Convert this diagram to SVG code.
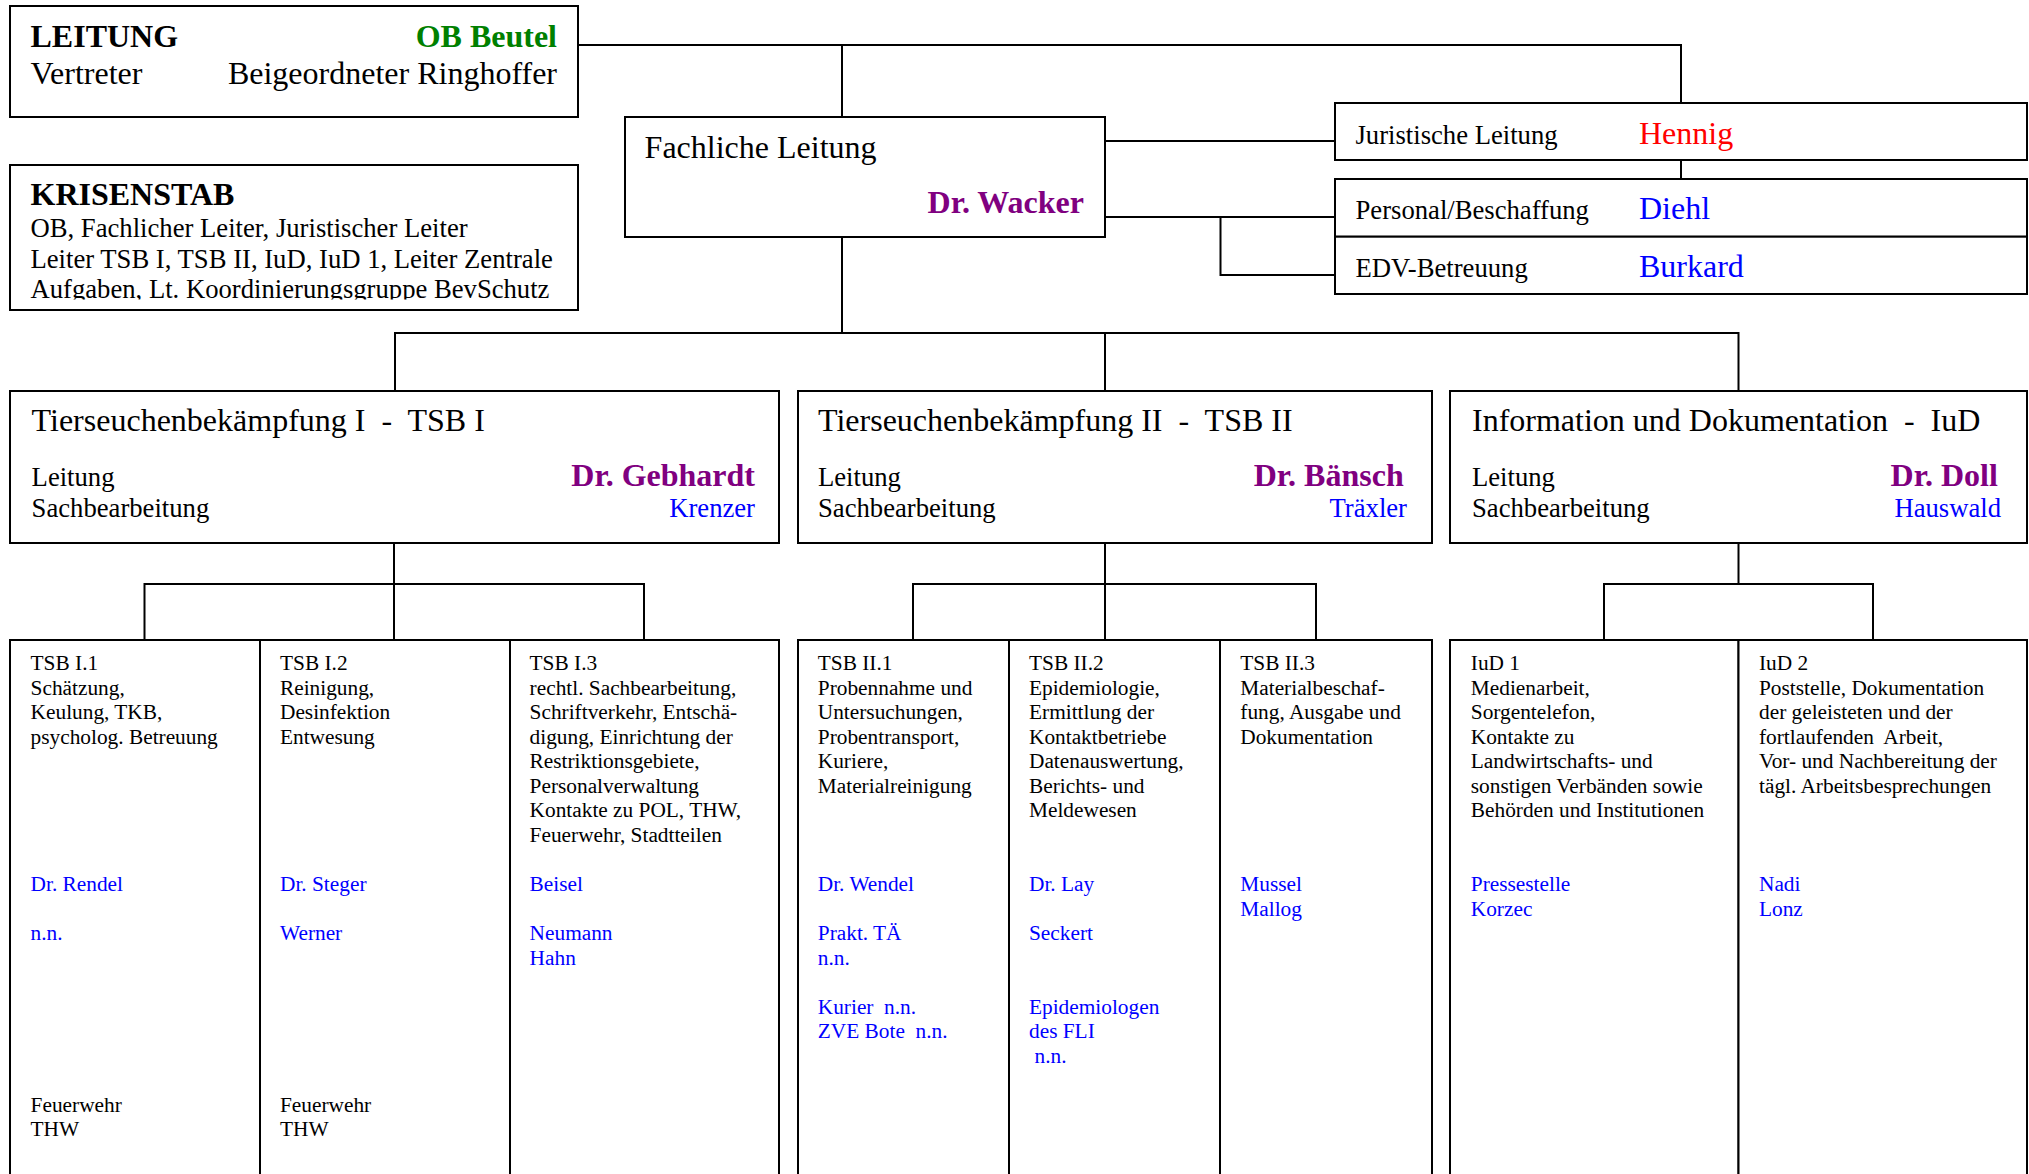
<svg xmlns="http://www.w3.org/2000/svg" width="2029" height="1174" viewBox="0 0 2029 1174">
<style>
.box{fill:#fff;stroke:#000;stroke-width:2}
.ln{fill:none;stroke:#000;stroke-width:2}
text{font-family:"Liberation Serif","Times New Roman",serif;fill:#000}
.h{font-size:32px}
.m{font-size:26.67px}
.s{font-size:21.33px}
.b{font-weight:bold}
.e{text-anchor:end}
.g{fill:#008000}
.p{fill:#800080}
.bl{fill:#0000ff}
.r{fill:#ff0000}
</style>
<defs>
<clipPath id="kclip"><rect x="10" y="165" width="568" height="134.5"/></clipPath>
</defs>
<rect width="2029" height="1174" fill="#fff"/>
<g id="connectors">
<path class="ln" d="M578,45 H1681 V103"/>
<path class="ln" d="M842,45 V117"/>
<path class="ln" d="M1105,141 H1335"/>
<path class="ln" d="M1105,217 H1335"/>
<path class="ln" d="M1220.5,217 V275 H1335"/>
<path class="ln" d="M1681,160 V179"/>
<path class="ln" d="M842,237 V333"/>
<path class="ln" d="M395,391 V333 H1738.5 V391"/>
<path class="ln" d="M1105,333 V391"/>
<path class="ln" d="M394,543 V640"/>
<path class="ln" d="M144.5,640 V584 H644 V640"/>
<path class="ln" d="M1105,543 V640"/>
<path class="ln" d="M913,640 V584 H1316 V640"/>
<path class="ln" d="M1738.5,543 V584"/>
<path class="ln" d="M1604,640 V584 H1873 V640"/>
</g>
<g id="leitung">
<rect class="box" x="10" y="6" width="568" height="111"/>
<text class="h b" x="30.5" y="46.7">LEITUNG</text>
<text class="h b g e" x="557" y="46.7">OB Beutel</text>
<text class="h" x="30.5" y="83.8">Vertreter</text>
<text class="h e" x="557" y="83.8">Beigeordneter Ringhoffer</text>
</g>
<g id="krisenstab">
<rect class="box" x="10" y="165" width="568" height="145"/>
<g clip-path="url(#kclip)">
<text class="h b" x="30.5" y="205">KRISENSTAB</text>
<text class="m" x="30.5" y="237.3">OB, Fachlicher Leiter, Juristischer Leiter</text>
<text class="m" x="30.5" y="267.7">Leiter TSB I, TSB II, IuD, IuD 1, Leiter Zentrale</text>
<text class="m" x="30.5" y="298">Aufgaben, Lt. Koordinierungsgruppe BevSchutz</text>
</g>
</g>
<g id="fachliche-leitung">
<rect class="box" x="625" y="117" width="480" height="120"/>
<text class="h" x="644.6" y="158">Fachliche Leitung</text>
<text class="h b p e" x="1084" y="212.5">Dr. Wacker</text>
</g>
<g id="juristische-leitung">
<rect class="box" x="1335" y="103" width="692" height="57"/>
<text class="m" x="1355.5" y="143.5">Juristische Leitung</text>
<text class="h r" x="1639" y="143.5">Hennig</text>
</g>
<g id="personal">
<rect class="box" x="1335" y="179" width="692" height="57.7"/>
<text class="m" x="1355.5" y="219.3">Personal/Beschaffung</text>
<text class="h bl" x="1639" y="219.3">Diehl</text>
</g>
<g id="edv">
<rect class="box" x="1335" y="236.7" width="692" height="57.3"/>
<text class="m" x="1355.5" y="276.7">EDV-Betreuung</text>
<text class="h bl" x="1639" y="276.7">Burkard</text>
</g>
<g id="tsb1">
<rect class="box" x="10" y="391" width="769" height="152"/>
<text class="h" x="31.6" y="430.7" xml:space="preserve">Tierseuchenbekämpfung I  -  TSB I</text>
<text class="m" x="31.6" y="486">Leitung</text>
<text class="h b p e" x="755" y="486">Dr. Gebhardt</text>
<text class="m" x="31.6" y="516.7">Sachbearbeitung</text>
<text class="m bl e" x="755" y="516.7">Krenzer</text>
</g>
<g id="tsb2">
<rect class="box" x="798" y="391" width="634" height="152"/>
<text class="h" x="818" y="430.7" xml:space="preserve">Tierseuchenbekämpfung II  -  TSB II</text>
<text class="m" x="818" y="486">Leitung</text>
<text class="h b p e" x="1403.7" y="486">Dr. Bänsch</text>
<text class="m" x="818" y="516.7">Sachbearbeitung</text>
<text class="m bl e" x="1407" y="516.7">Träxler</text>
</g>
<g id="iud">
<rect class="box" x="1450" y="391" width="577" height="152"/>
<text class="h" x="1472" y="430.7" xml:space="preserve">Information und Dokumentation  -  IuD</text>
<text class="m" x="1472" y="486">Leitung</text>
<text class="h b p e" x="1997.8" y="486">Dr. Doll</text>
<text class="m" x="1472" y="516.7">Sachbearbeitung</text>
<text class="m bl e" x="2001" y="516.7">Hauswald</text>
</g>
<g id="tsb1-1">
<rect class="box" x="10" y="640" width="250" height="560"/>
<text class="s" x="30.6" y="670.2">TSB I.1</text>
<text class="s" x="30.6" y="694.7">Schätzung,</text>
<text class="s" x="30.6" y="719.3">Keulung, TKB,</text>
<text class="s" x="30.6" y="743.8">psycholog. Betreuung</text>
<text class="s bl" x="30.6" y="891">Dr. Rendel</text>
<text class="s bl" x="30.6" y="940">n.n.</text>
<text class="s" x="30.6" y="1111.7">Feuerwehr</text>
<text class="s" x="30.6" y="1136.3">THW</text>
</g>
<g id="tsb1-2">
<rect class="box" x="260" y="640" width="250" height="560"/>
<text class="s" x="280" y="670.2">TSB I.2</text>
<text class="s" x="280" y="694.7">Reinigung,</text>
<text class="s" x="280" y="719.3">Desinfektion</text>
<text class="s" x="280" y="743.8">Entwesung</text>
<text class="s bl" x="280" y="891">Dr. Steger</text>
<text class="s bl" x="280" y="940">Werner</text>
<text class="s" x="280" y="1111.7">Feuerwehr</text>
<text class="s" x="280" y="1136.3">THW</text>
</g>
<g id="tsb1-3">
<rect class="box" x="510" y="640" width="269" height="560"/>
<text class="s" x="529.6" y="670.2">TSB I.3</text>
<text class="s" x="529.6" y="694.7">rechtl. Sachbearbeitung,</text>
<text class="s" x="529.6" y="719.3">Schriftverkehr, Entschä-</text>
<text class="s" x="529.6" y="743.8">digung, Einrichtung der</text>
<text class="s" x="529.6" y="768.3">Restriktionsgebiete,</text>
<text class="s" x="529.6" y="792.9">Personalverwaltung</text>
<text class="s" x="529.6" y="817.4">Kontakte zu POL, THW,</text>
<text class="s" x="529.6" y="841.9">Feuerwehr, Stadtteilen</text>
<text class="s bl" x="529.6" y="891">Beisel</text>
<text class="s bl" x="529.6" y="940">Neumann</text>
<text class="s bl" x="529.6" y="964.6">Hahn</text>
</g>
<g id="tsb2-1">
<rect class="box" x="798" y="640" width="211" height="560"/>
<text class="s" x="817.8" y="670.2">TSB II.1</text>
<text class="s" x="817.8" y="694.7">Probennahme und</text>
<text class="s" x="817.8" y="719.3">Untersuchungen,</text>
<text class="s" x="817.8" y="743.8">Probentransport,</text>
<text class="s" x="817.8" y="768.3">Kuriere,</text>
<text class="s" x="817.8" y="792.9">Materialreinigung</text>
<text class="s bl" x="817.8" y="891">Dr. Wendel</text>
<text class="s bl" x="817.8" y="940">Prakt. TÄ</text>
<text class="s bl" x="817.8" y="964.6">n.n.</text>
<text class="s bl" x="817.8" y="1013.6" xml:space="preserve">Kurier  n.n.</text>
<text class="s bl" x="817.8" y="1038.2" xml:space="preserve">ZVE Bote  n.n.</text>
</g>
<g id="tsb2-2">
<rect class="box" x="1009" y="640" width="211" height="560"/>
<text class="s" x="1029" y="670.2">TSB II.2</text>
<text class="s" x="1029" y="694.7">Epidemiologie,</text>
<text class="s" x="1029" y="719.3">Ermittlung der</text>
<text class="s" x="1029" y="743.8">Kontaktbetriebe</text>
<text class="s" x="1029" y="768.3">Datenauswertung,</text>
<text class="s" x="1029" y="792.9">Berichts- und</text>
<text class="s" x="1029" y="817.4">Meldewesen</text>
<text class="s bl" x="1029" y="891">Dr. Lay</text>
<text class="s bl" x="1029" y="940">Seckert</text>
<text class="s bl" x="1029" y="1013.6">Epidemiologen</text>
<text class="s bl" x="1029" y="1038.2">des FLI</text>
<text class="s bl" x="1034.5" y="1062.7">n.n.</text>
</g>
<g id="tsb2-3">
<rect class="box" x="1220" y="640" width="212" height="560"/>
<text class="s" x="1240.3" y="670.2">TSB II.3</text>
<text class="s" x="1240.3" y="694.7">Materialbeschaf-</text>
<text class="s" x="1240.3" y="719.3">fung, Ausgabe und</text>
<text class="s" x="1240.3" y="743.8">Dokumentation</text>
<text class="s bl" x="1240.3" y="891">Mussel</text>
<text class="s bl" x="1240.3" y="915.5">Mallog</text>
</g>
<g id="iud1">
<rect class="box" x="1450" y="640" width="288.5" height="560"/>
<text class="s" x="1470.8" y="670.2">IuD 1</text>
<text class="s" x="1470.8" y="694.7">Medienarbeit,</text>
<text class="s" x="1470.8" y="719.3">Sorgentelefon,</text>
<text class="s" x="1470.8" y="743.8">Kontakte zu</text>
<text class="s" x="1470.8" y="768.3">Landwirtschafts- und</text>
<text class="s" x="1470.8" y="792.9">sonstigen Verbänden sowie</text>
<text class="s" x="1470.8" y="817.4">Behörden und Institutionen</text>
<text class="s bl" x="1470.8" y="891">Pressestelle</text>
<text class="s bl" x="1470.8" y="915.5">Korzec</text>
</g>
<g id="iud2">
<rect class="box" x="1738.5" y="640" width="288.5" height="560"/>
<text class="s" x="1759" y="670.2">IuD 2</text>
<text class="s" x="1759" y="694.7">Poststelle, Dokumentation</text>
<text class="s" x="1759" y="719.3">der geleisteten und der</text>
<text class="s" x="1759" y="743.8" xml:space="preserve">fortlaufenden  Arbeit,</text>
<text class="s" x="1759" y="768.3">Vor- und Nachbereitung der</text>
<text class="s" x="1759" y="792.9">tägl. Arbeitsbesprechungen</text>
<text class="s bl" x="1759" y="891">Nadi</text>
<text class="s bl" x="1759" y="915.5">Lonz</text>
</g>
</svg>
